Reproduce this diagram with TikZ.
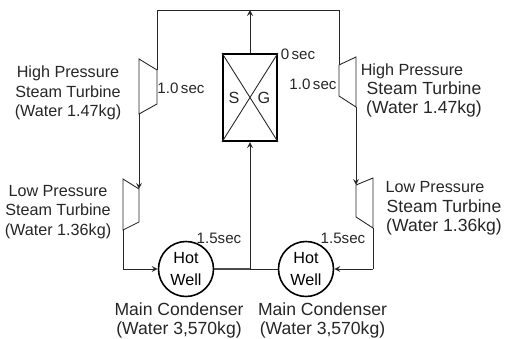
\documentclass[tikz,border=0pt]{standalone}
\usepackage{fontspec}
\setmainfont{Liberation Sans}
\usetikzlibrary{arrows}
\tikzset{
  pipe/.style={black!85, line width=0.5pt},
  flow/.style={pipe, -stealth},
  tag/.style={inner sep=0pt, align=center, black!85, font=\fontsize{9.2}{11}\selectfont},
  widetag/.style={tag, font=\fontsize{10}{11.2}\selectfont},
  timetag/.style={tag, font=\fontsize{8.6}{10}\selectfont},
  well/.style={draw, circle, line width=0.9pt, minimum size=1.1cm, inner sep=0pt, align=center, font=\fontsize{9.2}{12}\selectfont}
}
\begin{document}
\begin{tikzpicture}[scale=1]
        \useasboundingbox (0,0) rectangle (10.18,6.78);
        % steam generator and hot wells
        \node[draw, line width=1.2pt, minimum width=1.08cm, minimum height=1.74cm] (sg) at (5,4.83) {};
        \node[well] (wellL) at (3.72,1.4) {Hot\\Well};
        \node[well] (wellR) at (6.12,1.4) {Hot\\Well};
        \draw[pipe] (sg.north west) -- (sg.south east);
        \draw[pipe] (sg.north east) -- (sg.south west);
        \node[tag] (s) at (4.68,4.82) {S};
        \node[tag] (g) at (5.28,4.82) {G};

        \coordinate (topL) at (3.14,6.58);
        \coordinate (topM) at (5,6.58);
        \coordinate (topR) at (6.78,6.58);
        \coordinate (junc) at (5,1.4);
        \coordinate (cornerL) at (2.46,1.4);
        \coordinate (cornerR) at (7.46,1.4);

        % turbines
        \coordinate (hpLa) at (2.78,5.6);
        \coordinate (hpLb) at (3.14,5.38);
        \coordinate (hpLc) at (3.14,4.7);
        \coordinate (hpLd) at (2.78,4.5);
        \draw[pipe] (hpLb) -- (hpLa) -- (hpLd) -- (hpLc) -- cycle;
        \coordinate (lpLa) at (2.46,3.2);
        \coordinate (lpLb) at (2.78,3);
        \coordinate (lpLc) at (2.78,2.34);
        \coordinate (lpLd) at (2.46,2.18);
        \draw[pipe] (lpLb) -- (lpLa) -- (lpLd) -- (lpLc) -- cycle;
        \coordinate (hpRa) at (7.12,5.64);
        \coordinate (hpRb) at (6.78,5.48);
        \coordinate (hpRc) at (6.78,4.86);
        \coordinate (hpRd) at (7.12,4.64);
        \draw[pipe] (hpRb) -- (hpRa) -- (hpRd) -- (hpRc) -- cycle;
        \coordinate (lpRa) at (7.46,3.22);
        \coordinate (lpRb) at (7.12,3.08);
        \coordinate (lpRc) at (7.12,2.44);
        \coordinate (lpRd) at (7.46,2.22);
        \draw[pipe] (lpRb) -- (lpRa) -- (lpRd) -- (lpRc) -- cycle;

        % piping
        \draw[pipe] (hpLb) -- (topL) -- (topR) -- (hpRb);
        \draw[flow] (sg.north) -- (topM);
        \draw[flow] (hpLd) -- (lpLb);
        \draw[flow] (hpRd) -- (lpRb);
        \draw[pipe] (lpLd) -- (cornerL);
        \draw[flow] (cornerL) -- (wellL.west);
        \draw[pipe] (lpRd) -- (cornerR);
        \draw[flow] (cornerR) -- (wellR.east);
        \draw[black!70, line width=1pt] (wellL.east) -- (junc);
        \draw[pipe] (junc) -- (wellR.west);
        \draw[flow] (junc) -- (sg.south);

        % labels
        \node[tag] (hpLtext) at (1.36,4.92) {High Pressure\\Steam Turbine\\(Water 1.47kg)};
        \node[tag] (lpLtext) at (1.16,2.54) {Low Pressure\\Steam Turbine\\(Water 1.36kg)};
        \node[tag] (hpRhead) at (8.24,5.36) {High Pressure};
        \node[widetag] (hpRtext) at (8.48,4.79) {Steam Turbine\\(Water 1.47kg)};
        \node[tag] (lpRhead) at (8.7,3.04) {Low Pressure};
        \node[widetag] (lpRtext) at (8.88,2.43) {Steam Turbine\\(Water 1.36kg)};
        \node[widetag] (condL) at (3.58,0.37) {Main Condenser\\(Water 3,570kg)};
        \node[widetag] (condR) at (6.45,0.37) {Main Condenser\\(Water 3,570kg)};
        \node[timetag] (t0) at (5.96,5.7) {0\,sec};
        \node[timetag] (t1L) at (3.62,5.02) {1.0\,sec};
        \node[timetag] (t1R) at (6.26,5.1) {1.0\,sec};
        \node[timetag] (t2L) at (4.38,2.02) {1.5sec};
        \node[timetag] (t2R) at (6.86,2.02) {1.5sec};
\end{tikzpicture}
\end{document}
